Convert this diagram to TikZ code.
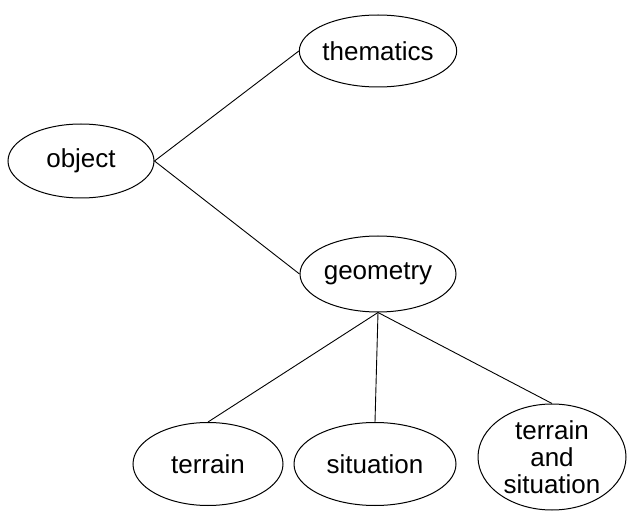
\documentclass[tikz,border=0pt]{standalone}
\usepackage{fontspec}
\setmainfont{Liberation Sans}
\usetikzlibrary{shapes.geometric}
\begin{document}
\begin{tikzpicture}[x=1pt,y=-1pt]
            \useasboundingbox (0,0) rectangle (627,513);
            \begin{scope}[every node/.style={ellipse,draw,line width=1pt,inner sep=0pt,
                    font=\fontsize{26}{27}\selectfont,align=center}]
                \node[minimum width=146pt,minimum height=74pt] (obj) at (81,161) {object};
                \node[minimum width=154pt,minimum height=72pt] (them) at (378,51) {thematics};
                \node[minimum width=156pt,minimum height=76pt] (geom) at (378,274) {geometry};
                \node[minimum width=150pt,minimum height=83pt] (ter) at (208,464) {terrain};
                \node[minimum width=162pt,minimum height=83pt] (sit) at (375,464) {situation};
                \node[minimum width=148pt,minimum height=106pt] (tersit) at (552,457) {terrain\\and\\situation};
            \end{scope}
            \begin{scope}[every path/.style={line width=0.9pt}]
                \path
                    (obj.east) edge (them.west)
                    (obj.east) edge (geom.west)
                    (geom.south) edge (ter.north)
                    (geom.south) edge (sit.north)
                    (geom.south) edge (tersit.north);
            \end{scope}
        \end{tikzpicture}
\end{document}
